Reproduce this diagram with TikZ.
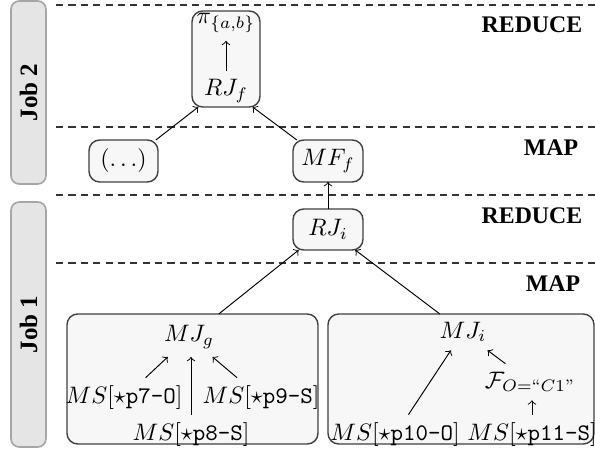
\documentclass[tikz,border=0pt]{standalone}
\usepackage{amsmath}
\usepackage{fontspec}
\newfontfamily\stagefont{Liberation Serif}
\begin{document}
\begin{tikzpicture}[x=0.42pt, y=-0.42pt, >=to,
        opbox/.style={draw=black!75, line width=0.6pt, fill=black!3,
            rounded corners=4.5pt, inner sep=3pt, outer sep=0pt},
        jobbox/.style={draw=black!35, line width=0.7pt, fill=black!10,
            rounded corners=3.5pt, rotate=90,
            font=\stagefont\fontsize{10.5}{12}\selectfont\bfseries},
        stage/.style={font=\stagefont\fontsize{10}{12}\selectfont\bfseries},
        bandline/.style={black!80, line width=0.45pt,
            dash pattern=on 3pt off 2.2pt}]
        \pgfmathsetmacro\px{0.42};

        \useasboundingbox (0, 0) rectangle (595, 451);

        \foreach \y in {5, 127, 195, 263}
        \draw[bandline] (56, \y) -- (595, \y);

        \node[jobbox, minimum width={183pt*\px}, minimum height={35pt*\px}]
            (jobtwo) at (28.5, 92.5) {Job 2};
        \node[jobbox, minimum width={245pt*\px}, minimum height={35pt*\px}]
            (jobone) at (28.5, 324.5) {Job 1};

        \node[stage] (redtwo) at (532, 25) {REDUCE};
        \node[stage] (maptwo) at (551, 148) {MAP};
        \node[stage] (redone) at (532, 216) {REDUCE};
        \node[stage] (mapone) at (553, 284) {MAP};

        % job 2
        \node[opbox, minimum width={68pt*\px}, minimum height={96pt*\px}]
            (pibox) at (226, 59) {};
        \node (pia) at (226, 23) {$\pi_{\{a,b\}}$};
        \node (rjf) at (226, 91) {$RJ_f$};
        \draw[->] (rjf) -- (pia);

        \node[opbox, minimum width={69pt*\px}, minimum height={42pt*\px}]
            (dots) at (123.5, 161) {$(\ldots)$};
        \node[opbox, minimum width={70pt*\px}, minimum height={42pt*\px}]
            (mff) at (328, 161) {$MF_f$};
        \draw[->] (dots.33) -- (pibox.240);
        \draw[->] (mff.146) -- (pibox.299);

        % job 1
        \node[opbox, minimum width={70pt*\px}, minimum height={41pt*\px}]
            (rji) at (328, 229.5) {$RJ_i$};
        \draw[->] (rji) -- (mff);

        \node[opbox, minimum width={251pt*\px}, minimum height={130pt*\px}]
            (gbox) at (192.5, 379) {};
        \node[opbox, minimum width={266pt*\px}, minimum height={130pt*\px}]
            (ibox) at (461, 379) {};
        \draw[->] (gbox.68) -- (rji.215);
        \draw[->] (ibox.108) -- (rji.323);

        \node (mjg) at (189, 337) {$MJ_g$};
        \foreach \name/\x/\y/\pat in {pgs7/124/398/p7-O, pgs8/191/435/p8-S,
            pgs9/261/398/p9-S} {
            \node (\name) at (\x, \y) {$MS[\star\texttt{\pat}]$};
        }
        \draw[->] (pgs7) -- (mjg);
        \draw[->] (pgs8.north) -- (pgs8.north |- mjg.south);
        \draw[->] (pgs9) -- (mjg);

        \node (mji) at (463, 332) {$MJ_i$};
        \node (fco) at (530, 382) {$\mathcal{F}_{O=\text{``}C1\text{''}}$};
        \node (pgs10) at (395, 435) {$MS[\star\texttt{p10-O}]$};
        \node (pgs11) at (532, 435) {$MS[\star\texttt{p11-S}]$};
        \draw[->] (pgs10) -- (mji);
        \draw[->] (fco) -- (mji);
        \draw[->] (pgs11.north) -- (pgs11.north |- fco.south);
    \end{tikzpicture}
\end{document}
